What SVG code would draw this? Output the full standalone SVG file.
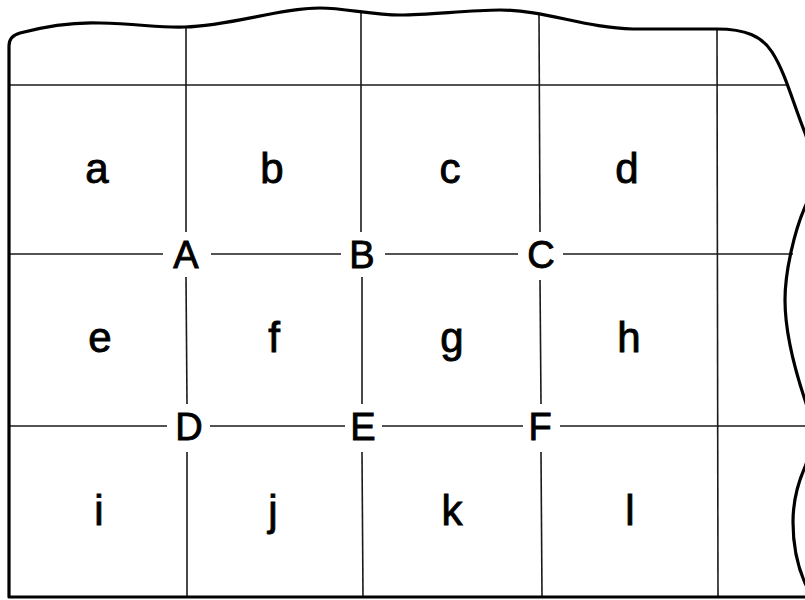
<svg xmlns="http://www.w3.org/2000/svg" width="805" height="600" viewBox="0 0 805 600">
<style>
.bg{fill:#ffffff}
.border{fill:none;stroke:#000;stroke-width:3.2;stroke-linejoin:round;stroke-linecap:round}
.grid{fill:none;stroke:#1a1a1a;stroke-width:1.6}
.lc{font-family:"Liberation Sans",Arial,sans-serif;font-size:42px;fill:#000;stroke:#000;stroke-width:0.9;text-anchor:middle}
.uc{font-family:"Liberation Sans",Arial,sans-serif;font-size:38px;fill:#000;stroke:#000;stroke-width:0.9;text-anchor:middle}
</style>
<rect class="bg" x="0" y="0" width="805" height="600"/>
<g id="connectors">
<g id="grid-horizontal">
<line class="grid" x1="9" y1="85" x2="786" y2="85"/>
<line class="grid" x1="9" y1="254" x2="163" y2="254"/>
<line class="grid" x1="211" y1="254" x2="341" y2="254"/>
<line class="grid" x1="385" y1="254" x2="518" y2="254"/>
<line class="grid" x1="563" y1="254" x2="793" y2="254"/>
<line class="grid" x1="9" y1="426" x2="167" y2="426"/>
<line class="grid" x1="210" y1="426" x2="345" y2="426"/>
<line class="grid" x1="382" y1="426" x2="523" y2="426"/>
<line class="grid" x1="560" y1="426" x2="805" y2="426"/>
</g>
<g id="grid-vertical">
<line class="grid" x1="186" y1="27" x2="186" y2="232"/>
<line class="grid" x1="186" y1="277" x2="187" y2="404"/>
<line class="grid" x1="187" y1="452" x2="187" y2="597"/>
<line class="grid" x1="361" y1="12" x2="361" y2="232"/>
<line class="grid" x1="362" y1="277" x2="362" y2="404"/>
<line class="grid" x1="362" y1="452" x2="363" y2="597"/>
<line class="grid" x1="539" y1="14" x2="540" y2="232"/>
<line class="grid" x1="540" y1="280" x2="541" y2="404"/>
<line class="grid" x1="541" y1="452" x2="542" y2="597"/>
<line class="grid" x1="717" y1="29" x2="718" y2="597"/>
</g>
</g>
<g id="border">
<path class="border" d="M 9 597 L 9 46 Q 9 36 20 33 C 50 25, 75 22, 100 23 C 140 24, 160 28, 185 27 C 230 26, 280 8, 320 8 C 345 8, 372 15, 400 15 C 430 15, 468 10, 500 10 C 545 10, 585 28, 633 29 L 717 29 C 745 29, 762 36, 772 52 C 785 72, 792 100, 805 133 C 815 160, 815 185, 805 207 C 795 230, 785 270, 785 300 C 785 330, 795 370, 805 400 C 812 420, 812 450, 805 467 C 797 485, 793 505, 793 522 C 793 545, 797 565, 805 583 L 812 597 Z"/>
</g>
<g id="cell-a"><text class="lc" x="97" y="183">a</text></g>
<g id="cell-b"><text class="lc" x="272" y="183">b</text></g>
<g id="cell-c"><text class="lc" x="450" y="183">c</text></g>
<g id="cell-d"><text class="lc" x="627" y="183">d</text></g>
<g id="cell-e"><text class="lc" x="100" y="352">e</text></g>
<g id="cell-f"><text class="lc" x="274" y="352">f</text></g>
<g id="cell-g"><text class="lc" x="452" y="352">g</text></g>
<g id="cell-h"><text class="lc" x="629" y="352">h</text></g>
<g id="cell-i"><text class="lc" x="99" y="525">i</text></g>
<g id="cell-j"><text class="lc" x="273" y="525">j</text></g>
<g id="cell-k"><text class="lc" x="452" y="525">k</text></g>
<g id="cell-l"><text class="lc" x="630" y="525">l</text></g>
<g id="point-A"><text class="uc" x="186" y="268">A</text></g>
<g id="point-B"><text class="uc" x="362" y="268">B</text></g>
<g id="point-C"><text class="uc" x="541" y="268">C</text></g>
<g id="point-D"><text class="uc" x="189" y="440">D</text></g>
<g id="point-E"><text class="uc" x="363" y="440">E</text></g>
<g id="point-F"><text class="uc" x="540" y="440">F</text></g>
</svg>
